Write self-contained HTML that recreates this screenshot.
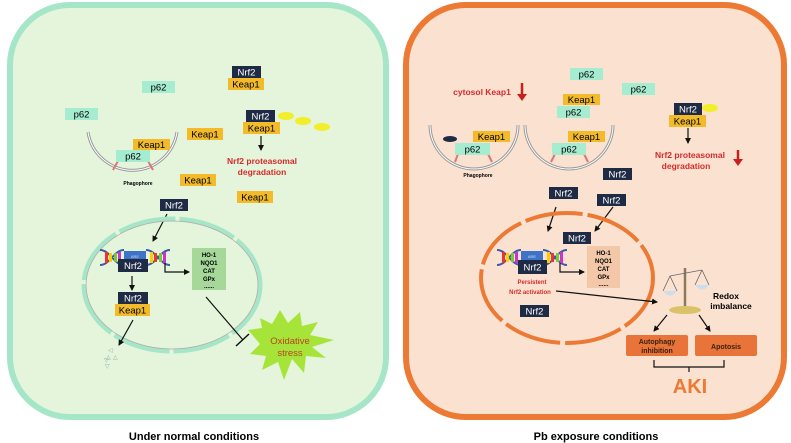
<!DOCTYPE html>
<html><head><meta charset="utf-8"><style>
html,body{margin:0;padding:0;background:#fff;}
svg{display:block;font-family:"Liberation Sans",Arial,sans-serif;}
.b{font-weight:bold;}
</style></head><body>
<svg width="791" height="443" viewBox="0 0 791 443" xmlns="http://www.w3.org/2000/svg">
<defs>
<marker id="ar" markerWidth="6" markerHeight="6" refX="5" refY="3" orient="auto" markerUnits="userSpaceOnUse"><path d="M0,0 L6,3 L0,6 z" fill="#111"/></marker>
<g id="dna">
<path d="M0,0 C10,0 14,15 24,15 M0,15 C10,15 14,0 24,0 M46,0 C56,0 60,15 70,15 M46,15 C56,15 60,0 70,0" stroke="#3b5aa8" stroke-width="2" fill="none"/>
<rect x="5" y="2" width="3" height="11" fill="#e33"/><rect x="9" y="3" width="3" height="9" fill="#fc0"/><rect x="14" y="3" width="3" height="9" fill="#7c3"/><rect x="18" y="2" width="3" height="11" fill="#c3c"/>
<rect x="50" y="2" width="3" height="11" fill="#fc0"/><rect x="54" y="3" width="3" height="9" fill="#e33"/><rect x="59" y="3" width="3" height="9" fill="#7c3"/><rect x="63" y="2" width="3" height="11" fill="#c3c"/>
<rect x="24" y="1" width="22" height="9" fill="#3d74c8"/><text x="35" y="8" font-size="4" fill="#cde" text-anchor="middle">ARE</text>
</g>
</defs>

<!-- LEFT CELL -->
<rect x="10" y="5" width="376" height="412" rx="60" fill="#e5f5dc" stroke="#a5e6c8" stroke-width="6"/>
<!-- RIGHT CELL -->
<rect x="406" y="5" width="378" height="412" rx="60" fill="#fbe2d0" stroke="#ec7a34" stroke-width="6"/>

<!-- ===== left content ===== -->
<g font-size="9.5" text-anchor="middle">
<rect x="232" y="66" width="29" height="12" fill="#1f2a44"/><text x="246.5" y="75.5" fill="#fff">Nrf2</text>
<rect x="228" y="78" width="36" height="12" fill="#f3bb2a"/><text x="246" y="87.5">Keap1</text>
<rect x="142" y="81" width="33" height="12" fill="#a6ecd0"/><text x="158.5" y="90.5">p62</text>
<rect x="65" y="108" width="33" height="12" fill="#a6ecd0"/><text x="81.5" y="117.5">p62</text>

<rect x="246" y="110" width="29" height="12" fill="#1f2a44"/><text x="260.5" y="119.5" fill="#fff">Nrf2</text>
<rect x="243" y="122" width="37" height="12" fill="#f3bb2a"/><text x="261.5" y="131.5">Keap1</text>
<ellipse cx="286" cy="116" rx="8" ry="4" fill="#f2ee2a"/><ellipse cx="303" cy="121" rx="8" ry="4" fill="#f2ee2a"/><ellipse cx="322" cy="127" rx="8" ry="4" fill="#f2ee2a"/>
<line x1="261" y1="136" x2="261" y2="150" stroke="#111" stroke-width="1.2" marker-end="url(#ar)"/>
<text x="262" y="164" class="b" fill="#d42a2a" font-size="8.5">Nrf2 proteasomal</text>
<text x="262" y="175" class="b" fill="#d42a2a" font-size="8.5">degradation</text>

<path d="M88,132 A45,45 0 0 0 177,132" fill="none" stroke="#999" stroke-width="3"/>
<path d="M88,132 A45,45 0 0 0 177,132" fill="none" stroke="#fff" stroke-width="1"/>
<line x1="118" y1="161" x2="113" y2="170" stroke="#d77" stroke-width="2"/><line x1="148" y1="161" x2="153" y2="170" stroke="#d77" stroke-width="2"/>
<rect x="133" y="139" width="37" height="11" fill="#f3bb2a"/><text x="151.5" y="148">Keap1</text>
<rect x="116" y="150" width="34" height="12" fill="#a6ecd0"/><text x="133" y="159.5">p62</text>
<text x="138" y="185" font-size="5" class="b">Phagophore</text>

<rect x="187" y="128" width="36" height="12" fill="#f3bb2a"/><text x="205" y="137.5">Keap1</text>
<rect x="180" y="174" width="36" height="12" fill="#f3bb2a"/><text x="198" y="183.5">Keap1</text>
<rect x="237" y="191" width="36" height="12" fill="#f3bb2a"/><text x="255" y="200.5">Keap1</text>
<rect x="160" y="199" width="28" height="12" fill="#1f2a44"/><text x="174" y="208.5" fill="#fff">Nrf2</text>
</g>
<line x1="167" y1="214" x2="153" y2="241" stroke="#111" stroke-width="1.2" marker-end="url(#ar)"/>
<ellipse cx="172" cy="285" rx="88" ry="66" fill="none" stroke="#a5e6c8" stroke-width="5" stroke-dasharray="58 4"/>
<ellipse cx="172" cy="285" rx="86" ry="64" fill="none" stroke="#b9a9a6" stroke-width="0.7"/>
<use href="#dna" x="100" y="250"/>
<g font-size="9.5" text-anchor="middle">
<rect x="118" y="259" width="30" height="13" fill="#1f2a44"/><text x="133" y="269" fill="#fff">Nrf2</text>
<line x1="132" y1="276" x2="132" y2="290" stroke="#111" stroke-width="1.2" marker-end="url(#ar)"/>
<rect x="118" y="292" width="30" height="12" fill="#1f2a44"/><text x="133" y="301.5" fill="#fff">Nrf2</text>
<rect x="115" y="304" width="35" height="12" fill="#f3bb2a"/><text x="132.5" y="313.5">Keap1</text>
</g>
<line x1="133" y1="320" x2="119" y2="345" stroke="#111" stroke-width="1.2" marker-end="url(#ar)"/>
<g fill="#8aa" font-size="6"><text x="104" y="362">▽</text><text x="106" y="359">△</text><text x="113" y="359">△</text><text x="105" y="368">▽</text><text x="108" y="352">◁</text></g>
<path d="M165,263 V272 H189" fill="none" stroke="#111" stroke-width="1.2" marker-end="url(#ar)"/>
<rect x="192" y="248" width="34" height="42" fill="#a6d89a"/>
<g font-size="6" class="b" text-anchor="middle"><text x="209" y="257">HO-1</text><text x="209" y="265">NQO1</text><text x="209" y="273">CAT</text><text x="209" y="281">GPx</text><text x="209" y="288">......</text></g>
<line x1="206" y1="297" x2="243" y2="340" stroke="#111" stroke-width="1.2"/>
<line x1="236" y1="346" x2="249" y2="334" stroke="#111" stroke-width="1.5"/>
<polygon points="248,330 262,328 260,318 272,324 280,310 288,323 300,312 302,326 318,322 310,335 334,340 312,347 326,358 306,356 304,373 292,359 284,380 278,362 262,370 266,356 250,354 260,344" fill="#a7e43a"/>
<text x="290" y="344" font-size="9.5" fill="#b8441c" text-anchor="middle">Oxidative</text>
<text x="290" y="356" font-size="9.5" fill="#b8441c" text-anchor="middle">stress</text>
<text x="194" y="440" font-size="11" class="b" text-anchor="middle">Under normal conditions</text>

<!-- ===== right content ===== -->
<text x="482" y="95" class="b" fill="#d42a2a" font-size="8.5" text-anchor="middle">cytosol Keap1</text>
<line x1="522" y1="83" x2="522" y2="95" stroke="#c8201c" stroke-width="2.5"/><path d="M517,94 L527,94 L522,101 z" fill="#c8201c"/>
<g font-size="9.5" text-anchor="middle">
<rect x="570" y="68" width="33" height="12" fill="#a6ecd0"/><text x="586.5" y="77.5">p62</text>
<rect x="622" y="83" width="33" height="12" fill="#a6ecd0"/><text x="638.5" y="92.5">p62</text>
<rect x="563" y="94" width="37" height="11" fill="#f3bb2a"/><text x="581.5" y="103">Keap1</text>
<rect x="557" y="106" width="33" height="12" fill="#a6ecd0"/><text x="573.5" y="115.5">p62</text>
<rect x="674" y="103" width="28" height="12" fill="#1f2a44"/><text x="688" y="112.5" fill="#fff">Nrf2</text>
<ellipse cx="710" cy="108" rx="8" ry="4" fill="#f2ee2a"/>
<rect x="669" y="115" width="37" height="12" fill="#f3bb2a"/><text x="687.5" y="124.5">Keap1</text>
</g>
<line x1="688" y1="128" x2="688" y2="143" stroke="#111" stroke-width="1.2" marker-end="url(#ar)"/>
<text x="690" y="158" class="b" fill="#d42a2a" font-size="8.5" text-anchor="middle">Nrf2 proteasomal</text>
<text x="686" y="169" class="b" fill="#d42a2a" font-size="8.5" text-anchor="middle">degradation</text>
<line x1="738" y1="150" x2="738" y2="160" stroke="#c8201c" stroke-width="2.5"/><path d="M733,159 L743,159 L738,166 z" fill="#c8201c"/>

<path d="M430,125 A44,44 0 0 0 518,125" fill="none" stroke="#999" stroke-width="3"/>
<path d="M430,125 A44,44 0 0 0 518,125" fill="none" stroke="#fff" stroke-width="1"/>
<path d="M525,125 A44,44 0 0 0 613,125" fill="none" stroke="#999" stroke-width="3"/>
<path d="M525,125 A44,44 0 0 0 613,125" fill="none" stroke="#fff" stroke-width="1"/>
<line x1="458" y1="154" x2="455" y2="162" stroke="#d77" stroke-width="2"/><line x1="488" y1="154" x2="492" y2="162" stroke="#d77" stroke-width="2"/>
<line x1="555" y1="154" x2="551" y2="162" stroke="#d77" stroke-width="2"/><line x1="584" y1="154" x2="588" y2="162" stroke="#d77" stroke-width="2"/>
<ellipse cx="450" cy="139" rx="7" ry="3" fill="#1f2a44"/>
<g font-size="9.5" text-anchor="middle">
<rect x="473" y="131" width="37" height="11" fill="#f3bb2a"/><text x="491.5" y="140">Keap1</text>
<rect x="455" y="143" width="35" height="12" fill="#a6ecd0"/><text x="472.5" y="152.5">p62</text>
<rect x="568" y="131" width="37" height="11" fill="#f3bb2a"/><text x="586.5" y="140">Keap1</text>
<rect x="552" y="143" width="34" height="12" fill="#a6ecd0"/><text x="569" y="152.5">p62</text>
<rect x="603" y="168" width="29" height="12" fill="#1f2a44"/><text x="617.5" y="177.5" fill="#fff">Nrf2</text>
<rect x="549" y="187" width="29" height="12" fill="#1f2a44"/><text x="563.5" y="196.5" fill="#fff">Nrf2</text>
<rect x="597" y="194" width="29" height="12" fill="#1f2a44"/><text x="611.5" y="203.5" fill="#fff">Nrf2</text>
</g>
<text x="478" y="177" font-size="5" class="b" text-anchor="middle">Phagophore</text>
<line x1="556" y1="207" x2="548" y2="231" stroke="#111" stroke-width="1.2" marker-end="url(#ar)"/>
<line x1="613" y1="207" x2="595" y2="231" stroke="#111" stroke-width="1.2" marker-end="url(#ar)"/>
<ellipse cx="567" cy="278" rx="86" ry="65" fill="none" stroke="#ec7a34" stroke-width="4" stroke-dasharray="58 5"/>
<use href="#dna" x="497" y="250"/>
<g font-size="9.5" text-anchor="middle">
<rect x="563" y="232" width="28" height="12" fill="#1f2a44"/><text x="577" y="241.5" fill="#fff">Nrf2</text>
<rect x="518" y="260" width="29" height="14" fill="#1f2a44"/><text x="532.5" y="270.5" fill="#fff">Nrf2</text>
<rect x="520" y="305" width="29" height="12" fill="#1f2a44"/><text x="534.5" y="314.5" fill="#fff">Nrf2</text>
</g>
<text x="532" y="284" font-size="6" class="b" fill="#d42a2a" text-anchor="middle">Persistent</text>
<text x="530" y="294" font-size="6" class="b" fill="#d42a2a" text-anchor="middle">Nrf2 activation</text>
<path d="M560,263 V272 H584" fill="none" stroke="#111" stroke-width="1.2" marker-end="url(#ar)"/>
<rect x="587" y="246" width="33" height="42" fill="#f3c8a8"/>
<g font-size="6" class="b" text-anchor="middle"><text x="603.5" y="255">HO-1</text><text x="603.5" y="263">NQO1</text><text x="603.5" y="271">CAT</text><text x="603.5" y="279">GPx</text><text x="603.5" y="286">......</text></g>
<line x1="556" y1="291" x2="657" y2="302" stroke="#111" stroke-width="1.2" marker-end="url(#ar)"/>
<!-- scale -->
<g stroke="#666" fill="none" stroke-width="0.8">
<line x1="685" y1="268" x2="685" y2="308" stroke-width="2.5" stroke="#8a7a5a"/>
<line x1="670" y1="276" x2="702" y2="270"/>
<path d="M670,276 L663,291 M670,276 L677,291 M702,270 L695,285 M702,270 L709,285"/>
</g>
<path d="M663,291 Q670,300 677,291 z" fill="#cde"/><path d="M695,285 Q702,294 709,285 z" fill="#cde"/>
<ellipse cx="685" cy="310" rx="16" ry="4" fill="#d9c26a"/>
<text x="726" y="299" font-size="8.5" class="b" text-anchor="middle">Redox</text>
<text x="731" y="309" font-size="8.5" class="b" text-anchor="middle">imbalance</text>
<line x1="667" y1="315" x2="654" y2="331" stroke="#111" stroke-width="1.2" marker-end="url(#ar)"/>
<line x1="699" y1="315" x2="710" y2="331" stroke="#111" stroke-width="1.2" marker-end="url(#ar)"/>
<rect x="626" y="335" width="62" height="21" rx="2" fill="#e8743a"/>
<rect x="695" y="335" width="62" height="21" rx="2" fill="#e8743a"/>
<text x="657" y="344" font-size="7" class="b" fill="#3a2010" text-anchor="middle">Autophagy</text>
<text x="657" y="353" font-size="7" class="b" fill="#3a2010" text-anchor="middle">inhibition</text>
<text x="726" y="349" font-size="7" class="b" fill="#3a2010" text-anchor="middle">Apotosis</text>
<path d="M654,360 V367 H724 V360 M689,367 V372" fill="none" stroke="#111" stroke-width="1.2"/>
<text x="690" y="393" font-size="20" class="b" fill="#ec7a34" text-anchor="middle">AKI</text>
<text x="596" y="440" font-size="11" class="b" text-anchor="middle">Pb exposure conditions</text>
</svg>
</body></html>
